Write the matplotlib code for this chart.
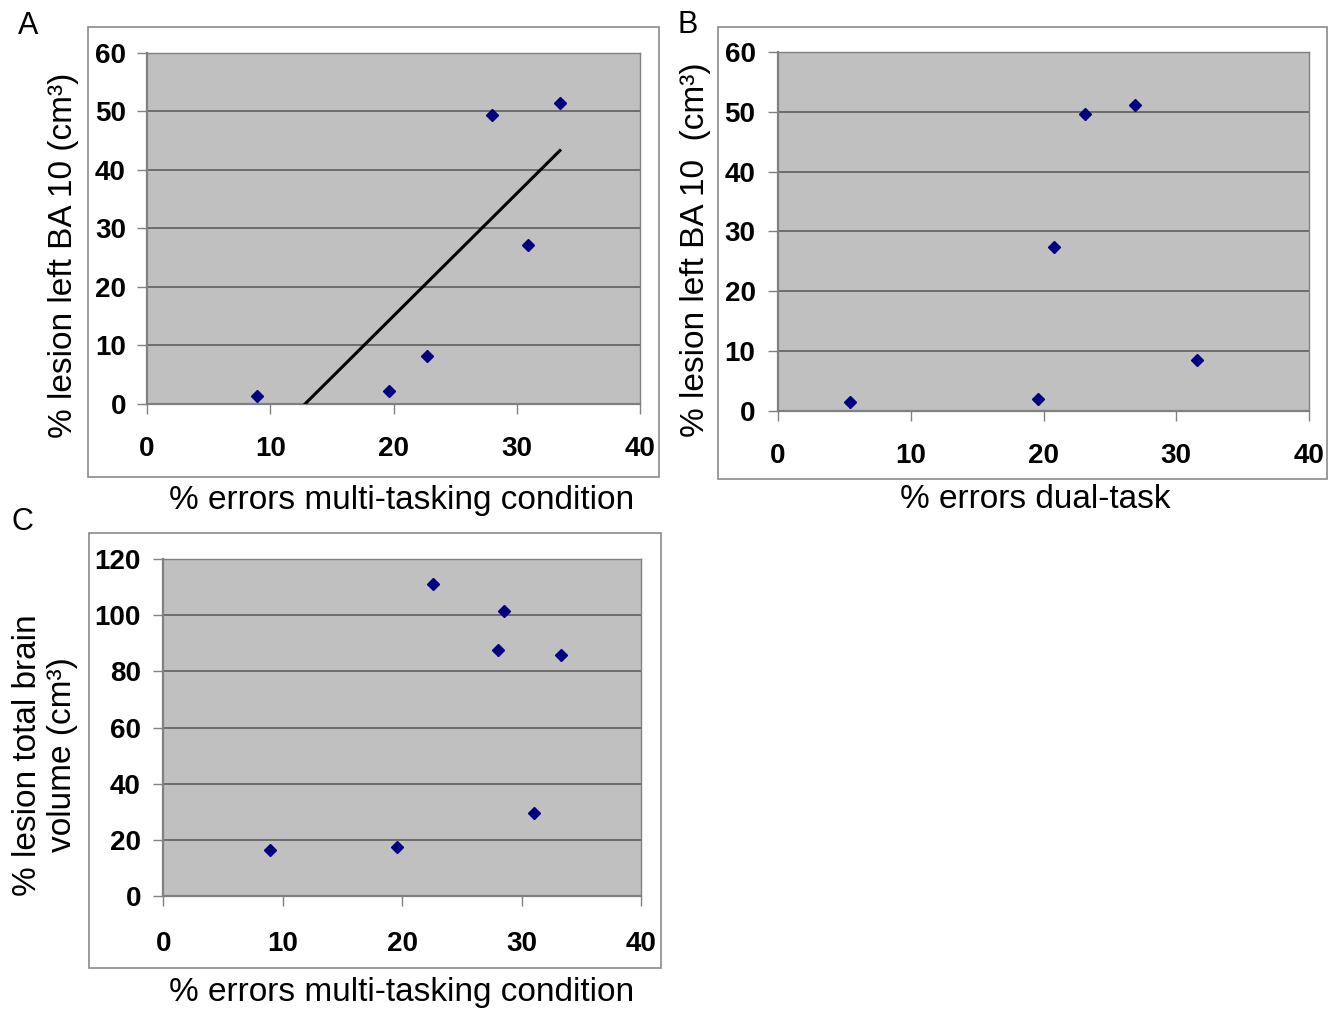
import numpy as np
import matplotlib
matplotlib.use("Agg")
import matplotlib.pyplot as plt
from matplotlib.patches import Rectangle

plt.rcParams['font.family'] = ['Liberation Sans', 'DejaVu Sans']

# ---- data ----
a_x = [8.9, 19.6, 22.7, 28.0, 30.9, 33.5]
a_y = [1.2, 2.1, 8.1, 49.4, 27.2, 51.4]

b_x = [5.4, 19.6, 20.8, 23.1, 26.9, 31.6]
b_y = [1.5, 2.0, 27.4, 49.6, 51.2, 8.5]

c_x = [8.9, 19.6, 22.6, 28.0, 28.5, 31.0, 33.3]
c_y = [16.3, 17.5, 111.2, 87.7, 101.6, 29.4, 85.9]

x_ticks = [0, 10, 20, 30, 40]
ab_y_ticks = [0, 10, 20, 30, 40, 50, 60]
c_y_ticks = [0, 20, 40, 60, 80, 100, 120]

xlabel_multi = "% errors multi-tasking condition"
xlabel_dual = "% errors dual-task"
ylabel_a = "% lesion left BA 10 (cm³)"
ylabel_b = "% lesion left BA 10  (cm³)"
ylabel_c = "% lesion total brain\nvolume (cm³)"

W, H = 1330, 1011
fig = plt.figure(figsize=(W / 100, H / 100), dpi=100)


def px_rect(l, t, r, b):
    return [l / W, 1 - b / H, (r - l) / W, (b - t) / H]


def fx(x):
    return x / W


def fy(y):
    return 1 - y / H


MARK = '#000080'
FILL = '#c0c0c0'
AXC = '#808080'
GRIDC = '#666666'
TFS = 20


def style(ax, yticks, ylim, xpad, ypad):
    ax.set_facecolor(FILL)
    ax.set_xlim(0, 40)
    ax.set_ylim(*ylim)
    ax.set_xticks(x_ticks)
    ax.set_yticks(yticks)
    ax.set_xticklabels([str(t) for t in x_ticks], fontsize=TFS, fontweight='bold')
    ax.set_yticklabels([str(t) for t in yticks], fontsize=TFS, fontweight='bold')
    ax.tick_params(axis='both', direction='out', length=7.2, width=1.0, color=AXC)
    ax.tick_params(axis='x', pad=xpad)
    ax.tick_params(axis='y', pad=ypad)
    ax.grid(axis='y', color=GRIDC, linewidth=1.3)
    ax.set_axisbelow(True)
    for s in ['left', 'bottom']:
        ax.spines[s].set_color(AXC)
        ax.spines[s].set_linewidth(1.6)
    for s in ['top', 'right']:
        ax.spines[s].set_color(AXC)
        ax.spines[s].set_linewidth(1.0)


# outer chart boxes
for (l, t, r, b) in [(88, 27, 659, 477), (718, 27, 1327, 479), (89, 533, 661, 968)]:
    fig.add_artist(Rectangle((fx(l), fy(b)), (r - l) / W, (b - t) / H,
                             transform=fig.transFigure, facecolor='none',
                             edgecolor='#8a8a8a', linewidth=1.2))

# ---- Panel A ----
axA = fig.add_axes(px_rect(147, 53, 640, 403.5))
style(axA, ab_y_ticks, (0, 60), 16, 8)
axA.plot(a_x, a_y, linestyle='none', marker='D', markersize=6.3,
         color=MARK, zorder=4, clip_on=False)
k, m = np.polyfit(a_x, a_y, 1)
tx = np.array([min(a_x), max(a_x)])
axA.plot(tx, k * tx + m, color='black', linewidth=2.2, zorder=3)

# ---- Panel B ----
axB = fig.add_axes(px_rect(778, 52, 1309, 410.7))
style(axB, ab_y_ticks, (0, 60), 16, 9)
axB.plot(b_x, b_y, linestyle='none', marker='D', markersize=6.3,
         color=MARK, zorder=4, clip_on=False)

# ---- Panel C ----
axC = fig.add_axes(px_rect(163.4, 559.3, 641, 895.7))
style(axC, c_y_ticks, (0, 120), 18, 9)
axC.plot(c_x, c_y, linestyle='none', marker='D', markersize=6.3,
         color=MARK, zorder=4, clip_on=False)

# ---- labels ----
LFS = 24
fig.text(fx(402), fy(500), xlabel_multi, ha='center', va='center', fontsize=LFS)
fig.text(fx(1035), fy(500), xlabel_dual, ha='center', va='center', fontsize=LFS)
fig.text(fx(402), fy(993), xlabel_multi, ha='center', va='center', fontsize=LFS)

fig.text(fx(64), fy(255), ylabel_a, ha='center', va='center', rotation=90, fontsize=LFS)
fig.text(fx(695), fy(250), ylabel_b, ha='center', va='center', rotation=90, fontsize=LFS)
fig.text(fx(45), fy(755), ylabel_c, ha='center', va='center', rotation=90,
         fontsize=LFS, multialignment='center', linespacing=1.15)

fig.text(fx(28), fy(26), "A", ha='center', va='center', fontsize=22)
fig.text(fx(688), fy(25), "B", ha='center', va='center', fontsize=22)
fig.text(fx(22), fy(522), "C", ha='center', va='center', fontsize=22)

fig.savefig("out.png", dpi=100, facecolor='white')
